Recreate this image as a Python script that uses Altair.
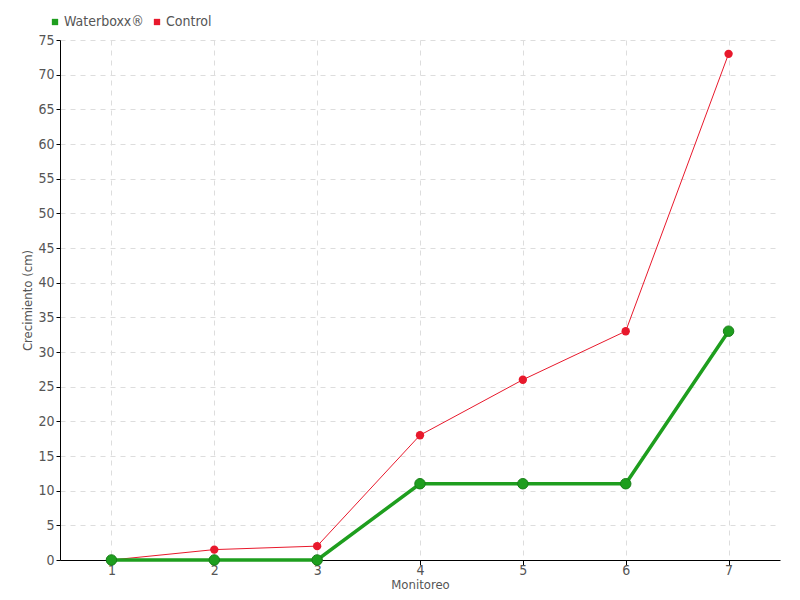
import altair as alt
import pandas as pd

monitoreo = [1, 2, 3, 4, 5, 6, 7]
waterboxx = [0, 0, 0, 11, 11, 11, 33]
control = [0, 1.5, 2, 18, 26, 33, 73]
series = ["Waterboxx®", "Control"]
colors = ["#1e9e1e", "#e8192c"]

rows = []
for m, v in zip(monitoreo, waterboxx):
    rows.append({"Monitoreo": m, "valor": v, "serie": series[0]})
for m, v in zip(monitoreo, control):
    rows.append({"Monitoreo": m, "valor": v, "serie": series[1]})
df = pd.DataFrame(rows)

FONT = "DejaVu Sans Condensed, Roboto, sans-serif"

x = alt.X("Monitoreo:O", scale=alt.Scale(type="point", padding=0.5),
          axis=alt.Axis(title="Monitoreo", labelAngle=0, grid=True,
                        gridDash=[5, 5], gridColor="#dddddd", titlePadding=1,
                        labelPadding=-2, tickSize=5, tickColor="#000",
                        domainColor="#000", labelColor="#555", titleColor="#555",
                        labelFontSize=14, titleFontSize=13, titleFontWeight="normal",
                        labelFont=FONT, titleFont=FONT))
y = alt.Y("valor:Q", scale=alt.Scale(domain=[0, 75], nice=False),
          axis=alt.Axis(title="Crecimiento (cm)", values=list(range(0, 80, 5)),
                        grid=True, gridDash=[5, 5], gridColor="#dddddd",
                        tickSize=4, tickColor="#000", domainColor="#000",
                        labelColor="#555", titleColor="#555", labelFontSize=14,
                        titleFontSize=13, titleFontWeight="normal", titlePadding=3,
                        labelPadding=2, labelFont=FONT, titleFont=FONT))
color = alt.Color("serie:N", scale=alt.Scale(domain=series, range=colors),
                  legend=alt.Legend(title=None, orient="none", legendX=-12, legendY=-25,
                                    direction="horizontal", symbolType="square",
                                    symbolSize=40, labelFont=FONT, labelFontSize=14,
                                    labelColor="#555", columnPadding=6,
                                    symbolStrokeWidth=0, labelOffset=2))

w = alt.Chart(df[df.serie == series[0]])
c = alt.Chart(df[df.serie == series[1]])

layers = [
    c.mark_line(strokeWidth=1, color=colors[1]).encode(x=x, y=y, color=color),
    c.mark_point(filled=True, size=70, opacity=1, color=colors[1]).encode(x=x, y=y, color=color),
    w.mark_line(strokeWidth=3.5, color=colors[0]).encode(x=x, y=y, color=color),
    w.mark_point(filled=True, size=110, opacity=1, stroke="#187f18", strokeWidth=1).encode(x=x, y=y, color=color),
]

chart = alt.layer(*layers).properties(
    width=720, height=520,
    autosize=alt.AutoSizeParams(type="none"),
    padding={"left": 52, "top": 32, "right": 4, "bottom": 40},
    background="white",
).configure_view(stroke=None)

chart.save("out.html", embed_options={"renderer": "svg", "actions": False})
